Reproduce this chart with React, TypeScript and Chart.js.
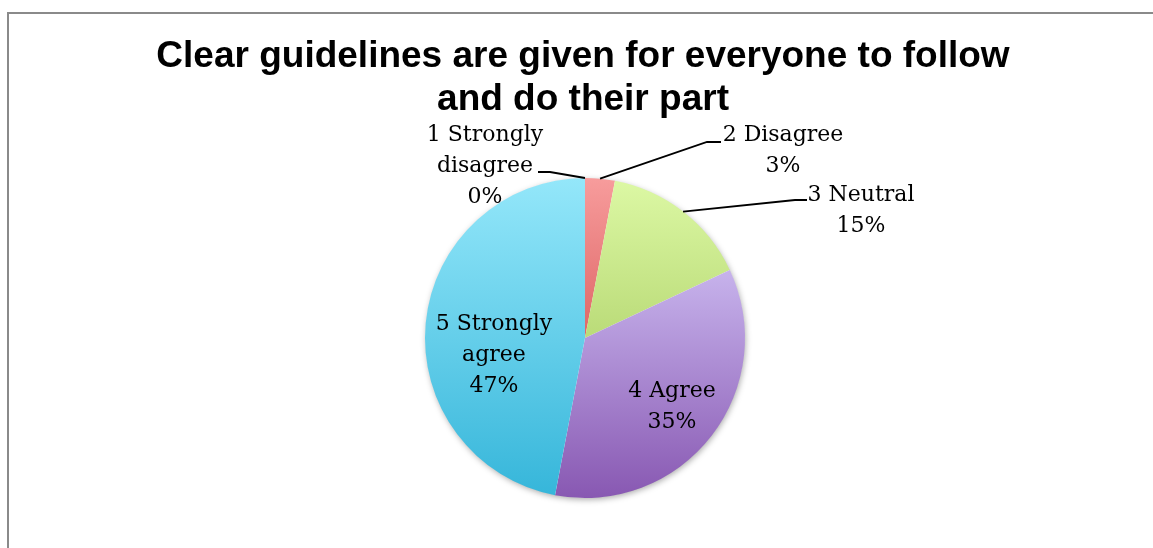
import React, { useEffect, useRef } from "react";
import { Chart, registerables } from "chart.js";

Chart.register(...registerables);

const titleLines = ["Clear guidelines are given for everyone to follow", "and do their part"];
const categories = ["1 Strongly disagree", "2 Disagree", "3 Neutral", "4 Agree", "5 Strongly agree"];
const categoryLines = [["1 Strongly", "disagree"], ["2 Disagree"], ["3 Neutral"], ["4 Agree"], ["5 Strongly", "agree"]];
const percentages = [0, 3, 15, 35, 47];
const topColors = ["#F9A3A3", "#F79C9C", "#DCF8A4", "#C7B3EC", "#94E7FA"];
const bottomColors = ["#DC6464", "#DE6666", "#BADB78", "#8858B2", "#36B6DA"];

// label placement relative to the pie centre (pixels at radius 160)
const labelPlacement = [
  { dx: -100, dy: -197, leader: [[-35, -166], [-47, -166]] },
  { dx: 198, dy: -197, leader: [[122, -196], [136, -196]] },
  { dx: 276, dy: -137, leader: [[210, -138], [222, -138]] },
  { dx: 87, dy: 59, leader: null },
  { dx: -91, dy: -8, leader: null },
];

const LABEL_FONT = '22px "DejaVu Serif"';
const LINE_H = 31;

function sliceGradient(ctx: any) {
  const chart = ctx.chart;
  const i = ctx.dataIndex;
  const area = chart.chartArea;
  if (!area || i === undefined) return topColors[i ?? 0];
  const cx = (area.left + area.right) / 2;
  const cy = (area.top + area.bottom) / 2;
  const r = Math.min(area.right - area.left, area.bottom - area.top) / 2;
  const total = percentages.reduce((a, b) => a + b, 0);
  let acc = 0;
  for (let k = 0; k < i; k++) acc += percentages[k];
  const a0 = -Math.PI / 2 + (acc / total) * Math.PI * 2;
  const a1 = a0 + (percentages[i] / total) * Math.PI * 2;
  const ys = [cy, cy + Math.sin(a0) * r, cy + Math.sin(a1) * r];
  const within = (a: number) => {
    for (let t = -2; t <= 2; t++) {
      const v = a + t * Math.PI * 2;
      if (v >= a0 && v <= a1) return true;
    }
    return false;
  };
  if (within(Math.PI / 2)) ys.push(cy + r);
  if (within(-Math.PI / 2)) ys.push(cy - r);
  const y0 = Math.min(...ys);
  let y1 = Math.max(...ys);
  if (y1 - y0 < 1) y1 = y0 + 1;
  const g = chart.ctx.createLinearGradient(0, y0, 0, y1);
  g.addColorStop(0, topColors[i]);
  g.addColorStop(1, bottomColors[i]);
  return g;
}

const decorPlugin = {
  id: "decor",
  beforeDatasetsDraw(chart: any) {
    const meta = chart.getDatasetMeta(0);
    const arc = meta.data[0];
    if (!arc) return;
    const { x, y, outerRadius } = arc.getProps(["x", "y", "outerRadius"], true);
    const ctx = chart.ctx;
    ctx.save();
    ctx.shadowColor = "rgba(0,0,0,0.35)";
    ctx.shadowBlur = 6;
    ctx.shadowOffsetX = 1;
    ctx.shadowOffsetY = 2;
    ctx.fillStyle = "#ffffff";
    ctx.beginPath();
    ctx.arc(x, y, outerRadius - 0.5, 0, Math.PI * 2);
    ctx.fill();
    ctx.restore();
  },
  afterDatasetsDraw(chart: any) {
    const meta = chart.getDatasetMeta(0);
    const ctx = chart.ctx;
    ctx.save();
    meta.data.forEach((arc: any, i: number) => {
      const { x, y, outerRadius, startAngle, endAngle } = arc.getProps(
        ["x", "y", "outerRadius", "startAngle", "endAngle"],
        true
      );
      const s = outerRadius / 160;
      const p = labelPlacement[i];
      if (p.leader) {
        const mid = (startAngle + endAngle) / 2;
        ctx.beginPath();
        ctx.strokeStyle = "#000000";
        ctx.lineWidth = 1.8;
        ctx.moveTo(x + Math.cos(mid) * outerRadius, y + Math.sin(mid) * outerRadius);
        p.leader.forEach((pt: number[]) => ctx.lineTo(x + pt[0] * s, y + pt[1] * s));
        ctx.stroke();
      }
      const lines = [...categoryLines[i], `${percentages[i]}%`];
      ctx.font = LABEL_FONT;
      ctx.fillStyle = "#000000";
      ctx.textAlign = "center";
      ctx.textBaseline = "alphabetic";
      lines.forEach((t, j) => {
        ctx.fillText(t, x + p.dx * s, y + p.dy * s + j * LINE_H);
      });
    });
    // title
    const arc0 = meta.data[0];
    const cx = arc0 ? arc0.x - 2 : chart.width / 2;
    ctx.font = 'bold 37px "Liberation Sans", Arial, sans-serif';
    ctx.fillStyle = "#000000";
    ctx.textAlign = "center";
    ctx.textBaseline = "alphabetic";
    ctx.fillText(titleLines[0], cx, 67);
    ctx.fillText(titleLines[1], cx, 110);
    ctx.restore();
  },
};

export default function App() {
  const canvasRef = useRef<HTMLCanvasElement | null>(null);
  useEffect(() => {
    if (!canvasRef.current) return;
    const chart = new Chart(canvasRef.current, {
      type: "pie",
      data: {
        labels: categories,
        datasets: [
          {
            data: percentages,
            backgroundColor: sliceGradient as any,
            borderWidth: 0,
          },
        ],
      },
      options: {
        animation: false,
        responsive: true,
        maintainAspectRatio: false,
        layout: { padding: { left: 425, right: 408, top: 178, bottom: 50 } },
        plugins: {
          legend: { display: false },
          tooltip: { enabled: false },
          title: { display: false },
        },
      },
      plugins: [decorPlugin],
    });
    return () => chart.destroy();
  }, []);
  return (
    <div style={{ position: "fixed", left: 0, top: 0, width: 1153, height: 548, background: "#ffffff" }}>
      <div
        style={{
          position: "absolute",
          left: 7,
          top: 12,
          right: -4,
          bottom: -4,
          borderLeft: "2px solid #8a8a8a",
          borderTop: "2px solid #8a8a8a",
        }}
      />
      <div style={{ position: "absolute", left: 0, top: 0, width: 1153, height: 548 }}>
        <canvas ref={canvasRef} />
      </div>
    </div>
  );
}
